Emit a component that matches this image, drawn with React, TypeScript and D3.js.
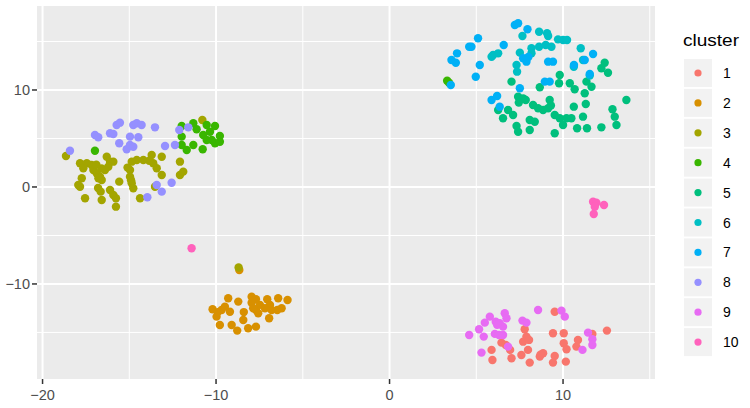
import React from "react";
import * as d3 from "d3";

const clusterNames = ["1", "2", "3", "4", "5", "6", "7", "8", "9", "10"];
const clusterColors = ["#F8766D", "#D89000", "#A3A500", "#39B600", "#00BF7D", "#00BFC4", "#00B0F6", "#9590FF", "#E76BF3", "#FF62BC"];
const xTicks = [-20, -10, 0, 10];
const yTicks = [-10, 0, 10];
const xMinor = [-15, -5, 5, 15];
const yMinor = [-15, -5, 5, 15];

const c1: [number, number][] = [
  [6.45, -16.05], [5.88, -16.8], [5.93, -17.84], [6.95, -16.8], [7.03, -17.66], [7.79, -14.67], [7.89, -15.43],
  [7.7, -15.95], [7.98, -16.8], [7.6, -17.32], [8.08, -18.11], [8.66, -17.49], [8.85, -17.14], [9.42, -15.08],
  [9.52, -12.86], [9.52, -17.42], [9.42, -18.11], [10.04, -15.08], [10.04, -16.11], [10.2, -16.73], [10.16, -18.01],
  [10.77, -16.46], [10.86, -15.77], [11.69, -15.15], [12.53, -14.81], [8.04, -15.77], [8.7, -17.3], [6.7, -16.3],
];
const c2: [number, number][] = [
  [-8.66, -8.56], [-10.2, -12.61], [-9.97, -13.37], [-9.78, -14.23], [-9.68, -12.68], [-9.49, -12.34], [-9.3, -11.47],
  [-9.2, -12.86], [-9.1, -14.23], [-8.78, -14.81], [-8.72, -11.82], [-8.43, -13.71], [-8.15, -14.57], [-7.95, -11.31],
  [-7.95, -11.93], [-7.7, -11.58], [-7.7, -12.68], [-7.57, -13.02], [-7.7, -14.4], [-7.47, -12.16], [-7.05, -11.58],
  [-6.89, -12.16], [-6.8, -12.68], [-6.94, -13.54], [-6.42, -11.47], [-6.47, -12.68], [-6.22, -12.51], [-5.88, -11.65],
  [-7.86, -12.51], [-7.18, -12.51], [-9.9, -12.9], [-8.4, -12.9],
];
const c3: [number, number][] = [
  [-8.7, -8.3], [-10.79, 6.91],
  [-18.65, 3.2], [-17.84, 2.44], [-17.45, 2.44], [-17.17, 2.27], [-17.65, 1.93], [-17.07, 1.75], [-16.88, 1.41],
  [-16.69, 1.06], [-16.59, 0.72], [-16.78, 0.9], [-17.74, 0.9], [-17.94, 0.21], [-17.84, 0.03], [-17.55, -1.16],
  [-16.65, -0.48], [-16.59, -1.34], [-16.11, -0.31], [-15.92, -0.82], [-15.77, -1.16], [-15.77, -2.03], [-16.3, 3.12],
  [-16.11, 2.61], [-15.92, 2.61], [-16.21, 2.09], [-16.4, 1.75], [-16.6, 1.9], [-15.58, 0.55], [-14.86, 2.61],
  [-14.57, 2.78], [-14.19, 2.78], [-14.96, 1.75], [-14.96, 1.06], [-14.86, 0.38], [-14.77, -0.14], [-14.38, -1.16],
  [-13.71, 3.3], [-13.62, 2.44], [-13.13, 3.12], [-13.42, 1.93], [-13.13, 1.24], [-13.52, 0.03], [-12.08, 2.61],
  [-12.08, 1.24], [-11.89, 1.58], [-16.9, 2.3], [-15.1, 2.0], [-13.85, 2.7], [-14.9, 0.7], [-16.8, -0.1],
];
const c4: [number, number][] = [
  [-16.98, 3.74], [-11.98, 6.29], [-11.31, 6.57], [-11.12, 5.95], [-10.54, 6.39], [-10.06, 6.29], [-10.35, 5.7],
  [-10.74, 5.36], [-11.98, 5.19], [-11.98, 4.33], [-11.69, 3.81], [-11.31, 4.33], [-10.77, 3.89], [-10.54, 4.85],
  [-10.25, 4.85], [-10.06, 4.51], [-9.78, 4.67], [-9.78, 5.26], [3.32, 10.96], [3.43, 10.75],
];
const c5: [number, number][] = [
  [12.4, 12.81], [12.21, 12.24], [12.59, 11.78], [9.81, 11.55], [9.77, 10.69], [10.39, 10.69], [10.67, 10.07],
  [11.35, 10.86], [11.64, 10.34], [11.25, 9.66], [7.03, 10.86], [8.66, 10.28], [7.41, 9.31], [7.7, 9.14],
  [7.85, 8.97], [6.26, 7.94], [6.83, 7.94], [7.12, 7.42], [6.54, 7.08], [8.27, 8.45], [8.56, 8.11], [8.85, 7.94],
  [9.23, 8.97], [9.14, 8.11], [8.08, 6.91], [8.37, 6.73], [7.32, 6.29], [7.41, 5.7], [8.08, 5.88], [9.52, 7.42],
  [9.81, 7.08], [10.2, 7.08], [9.52, 5.54], [10.0, 6.39], [10.48, 7.08], [10.62, 8.28], [11.15, 7.25], [10.81, 6.05],
  [11.38, 6.05], [11.31, 8.56], [12.21, 6.15], [12.85, 8.01], [12.98, 7.25], [13.08, 6.39], [13.65, 8.97],
  [7.45, 8.7], [9.3, 8.4],
];
const c6: [number, number][] = [
  [7.66, 15.57], [8.62, 16.01], [9.08, 15.85], [9.14, 15.57], [9.71, 15.22], [10.0, 15.15], [10.23, 15.15],
  [8.18, 14.3], [8.62, 14.46], [9.0, 14.64], [9.33, 14.46], [7.51, 13.85], [8.18, 13.78], [5.97, 13.61],
  [6.26, 13.78], [5.88, 13.43], [7.32, 12.58], [7.35, 11.89], [11.02, 14.3], [11.15, 13.09], [10.62, 12.4],
  [11.54, 11.5],
];
const c7: [number, number][] = [
  [7.22, 16.7], [7.41, 16.88], [7.95, 16.26], [5.1, 15.33], [4.59, 14.46], [4.72, 14.46], [3.89, 13.78],
  [3.57, 13.09], [3.82, 12.81], [5.2, 12.58], [4.97, 11.37], [3.53, 10.52], [6.58, 14.64], [7.7, 13.27],
  [7.89, 12.92], [8.0, 13.4], [9.14, 12.92], [9.42, 12.92], [8.95, 10.86], [9.23, 10.86], [7.51, 10.18],
  [5.88, 8.97], [6.2, 9.38], [6.35, 8.28], [10.63, 12.58], [11.25, 13.09], [11.73, 13.71], [11.54, 11.65],
];
const c8: [number, number][] = [
  [-18.42, 3.74], [-16.98, 5.36], [-16.79, 5.12], [-16.11, 5.54], [-15.92, 5.46], [-15.73, 6.39], [-15.54, 6.63],
  [-14.77, 6.39], [-14.57, 6.57], [-14.29, 6.39], [-14.96, 5.19], [-14.48, 5.12], [-15.58, 4.51], [-14.96, 4.33],
  [-15.15, 3.89], [-14.77, 4.15], [-13.52, 6.15], [-12.94, 4.23], [-12.37, 4.33], [-12.12, 5.88], [-11.6, 6.15],
  [-12.56, 0.44], [-13.13, -0.48], [-13.42, 0.21], [-13.96, -1.06],
];
const c9: [number, number][] = [
  [4.59, -15.26], [5.16, -14.67], [5.43, -15.43], [5.3, -17.08], [5.49, -13.99], [5.78, -13.37], [6.12, -13.89],
  [6.35, -14.05], [6.64, -13.02], [6.74, -13.54], [6.54, -14.4], [6.07, -15.15], [6.31, -15.26], [6.54, -15.26],
  [6.83, -16.46], [7.66, -13.78], [7.89, -13.99], [8.56, -12.68], [9.91, -12.75], [10.1, -13.37], [11.44, -15.02],
  [11.69, -15.7], [11.69, -16.29], [11.12, -16.8], [6.2, -14.2],
];
const c10: [number, number][] = [
  [-11.41, -6.32], [11.73, -1.52], [11.92, -1.62], [12.36, -1.86], [11.77, -2.78], [11.83, -2.03],
];
const clusterData = [c1, c2, c3, c4, c5, c6, c7, c8, c9, c10];

const W = 750;
const H = 408;
const font = "'Liberation Sans', Arial, sans-serif";

export default function App() {
  const x = d3.scaleLinear().domain([-20.32, 15.3]).range([37, 655]);
  const y = d3.scaleLinear().domain([-19.8, 18.66]).range([379, 6]);
  const fmt = (v: number) => (v < 0 ? "\u2212" + Math.abs(v) : String(v));
  const keyTop = 59;
  const keyStep = 29.9;

  return (
    <div style={{ position: "absolute", left: 0, top: 0 }}>
      <svg width={W} height={H} style={{ display: "block", background: "#fff" }}>
        <rect x={x(-20.32)} y={y(18.66)} width={x(15.3) - x(-20.32)} height={y(-19.8) - y(18.66)} fill="#EBEBEB" />
        {xMinor.map((v) => (
          <line key={"xm" + v} x1={x(v)} x2={x(v)} y1={y(18.66)} y2={y(-19.8)} stroke="#fff" strokeWidth={1} />
        ))}
        {yMinor.map((v) => (
          <line key={"ym" + v} y1={y(v)} y2={y(v)} x1={x(-20.32)} x2={x(15.3)} stroke="#fff" strokeWidth={1} />
        ))}
        {xTicks.map((v) => (
          <line key={"xM" + v} x1={x(v)} x2={x(v)} y1={y(18.66)} y2={y(-19.8)} stroke="#fff" strokeWidth={2} />
        ))}
        {yTicks.map((v) => (
          <line key={"yM" + v} y1={y(v)} y2={y(v)} x1={x(-20.32)} x2={x(15.3)} stroke="#fff" strokeWidth={2} />
        ))}
        {clusterData.map((pts, ci) =>
          pts.map((p, i) => (
            <circle key={ci + "-" + i} cx={x(p[0])} cy={y(p[1])} r={4.2} fill={clusterColors[ci]} />
          ))
        )}
        {xTicks.map((v) => (
          <g key={"xt" + v}>
            <line x1={x(v)} x2={x(v)} y1={379} y2={384} stroke="#333" strokeWidth={1.5} />
            <text x={x(v)} y={400} textAnchor="middle" fontFamily={font} fontSize={14.5} fill="#4D4D4D">
              {fmt(v)}
            </text>
          </g>
        ))}
        {yTicks.map((v) => (
          <g key={"yt" + v}>
            <line x1={32} x2={37} y1={y(v)} y2={y(v)} stroke="#333" strokeWidth={1.5} />
            <text x={30} y={y(v)} dy="0.35em" textAnchor="end" fontFamily={font} fontSize={14.5} fill="#4D4D4D">
              {fmt(v)}
            </text>
          </g>
        ))}
        <text x={683} y={46} fontFamily={font} fontSize={16} textLength={56} lengthAdjust="spacingAndGlyphs" fill="#000">
          cluster
        </text>
        {clusterNames.map((name, i) => (
          <g key={"lg" + name}>
            <rect x={684} y={keyTop + i * keyStep} width={28} height={28} fill="#F2F2F2" />
            <circle cx={698} cy={keyTop + i * keyStep + 14} r={3.6} fill={clusterColors[i]} />
            <text x={723} y={keyTop + i * keyStep + 14} dy="0.36em" fontFamily={font} fontSize={14} fill="#000">
              {name}
            </text>
          </g>
        ))}
      </svg>
    </div>
  );
}
